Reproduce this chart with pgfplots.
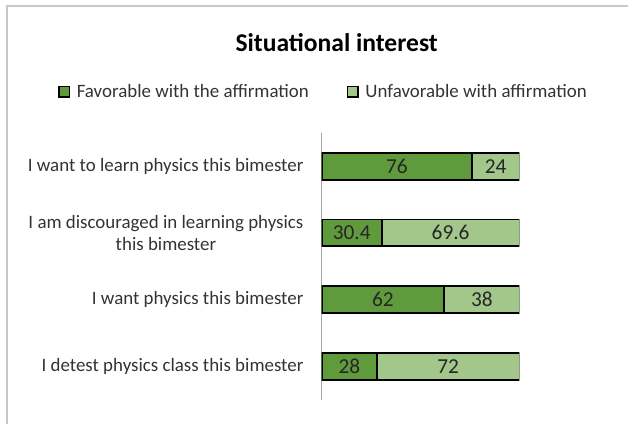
\documentclass[border=0pt]{standalone}
\usepackage{pgfplots}
\pgfplotsset{compat=1.18}
\usepackage{fontspec}
\setmainfont{Carlito}

\definecolor{favor}{HTML}{5F9B3D}
\definecolor{unfavor}{HTML}{A3C78A}
\definecolor{labelgray}{HTML}{333333}
\definecolor{framegray}{HTML}{C8C8C8}

\newcommand{\lblfont}{\fontsize{14.2}{17}\selectfont}

\begin{document}
\begin{tikzpicture}
% page = 629 x 424 px, 1 px = 0.75 pt
\path (0pt,0pt) rectangle (471.75pt,-318pt);
\draw[framegray, line width=1pt] (5.25pt,-318pt) -- (5.25pt,-4.5pt) -- (471.75pt,-4.5pt);
\node[anchor=base, font=\fontsize{19.2}{23}\bfseries\selectfont] at (252.75pt,-39pt) {Situational interest};

\begin{axis}[
    at={(241.5pt,-99.75pt)}, anchor=north west,
    scale only axis,
    width=148.5pt, height=200.25pt,
    xbar stacked,
    bar width=20.25pt,
    xmin=0, xmax=100,
    ymin=-0.5, ymax=3.5,
    enlargelimits=false,
    y dir=reverse,
    axis y line*=left,
    axis x line=none,
    y axis line style={draw=gray!70, line width=0.8pt},
    xtick=\empty,
    ytick={0,1,2,3},
    yticklabels={
        I want to learn physics this bimester,
        {I am discouraged in learning physics\\this bimester},
        I want physics this bimester,
        I detest physics class this bimester},
    yticklabel style={align=center, font=\lblfont, text=labelgray, inner sep=0pt, xshift=-13.5pt},
    major tick length=0pt,
    /pgf/number format/assume math mode=true,
    visualization depends on={rawx \as \rawx},
    nodes near coords={\pgfmathprintnumber{\rawx}},
    every node near coord/.append style={anchor=center, font=\fontsize{16}{19}\selectfont, text=black!85},
    legend style={at={(-1.3333,1.1536)}, anchor=west, draw=none, fill=none,
        inner sep=0pt, font=\lblfont, text=labelgray,
        /tikz/every even column/.append style={column sep=26.5pt}},
    legend columns=2,
    legend image code/.code={
        \draw[#1, draw=black, line width=1pt] (0.5pt,-3.9pt) rectangle (8.3pt,3.9pt);
        \path (11.3pt,0pt);},
]

% favorable
\addplot[fill=favor, draw=black, line width=1.3pt] coordinates {
    (76,0) (30.4,1) (62,2) (28,3)
};
\addlegendentry{Favorable with the affirmation}

% unfavorable
\addplot[fill=unfavor, draw=black, line width=1.3pt] coordinates {
    (24,0) (69.6,1) (38,2) (72,3)
};
\addlegendentry{Unfavorable with affirmation}

\end{axis}
\end{tikzpicture}
\end{document}
